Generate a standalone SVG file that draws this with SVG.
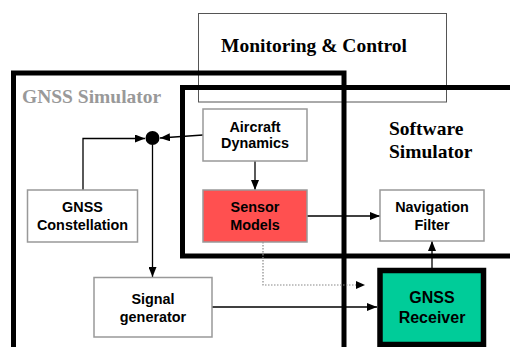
<svg xmlns="http://www.w3.org/2000/svg" width="510" height="347" viewBox="0 0 510 347">
<style>
.node{fill:#fff;stroke:#999;stroke-width:1.5}
.lbl{font-family:"Liberation Sans",Arial,sans-serif;font-weight:bold;font-size:14.4px;fill:#000;text-anchor:middle}
.big{font-family:"Liberation Serif","Times New Roman",serif;font-weight:bold;font-size:19.5px}
.frame{fill:none;stroke:#000;stroke-width:5}
.conn{fill:none;stroke:#000;stroke-width:1.3}
</style>
<defs>
<marker id="ah" viewBox="0 0 10 8" refX="10" refY="4" markerWidth="10" markerHeight="8" markerUnits="userSpaceOnUse" orient="auto">
<path d="M0,0 L10,4 L0,8 z" fill="#000"/>
</marker>
</defs>
<rect width="510" height="347" fill="#fff"/>
<g id="monitoring">
<rect x="198.5" y="13.5" width="248" height="88.5" fill="none" stroke="#555" stroke-width="1"/>
<text class="big" x="314" y="52" text-anchor="middle">Monitoring &amp; Control</text>
</g>
<g id="gnss-simulator">
<rect class="frame" x="13.5" y="73" width="330.5" height="290"/>
<text class="big" x="22" y="103" fill="#999">GNSS Simulator</text>
</g>
<g id="software-simulator">
<rect class="frame" x="182.5" y="87.5" width="340" height="168.5"/>
<text class="big" x="389" y="135">Software</text>
<text class="big" x="389" y="158">Simulator</text>
</g>
<g id="connectors">
<line class="conn" x1="203" y1="135" x2="160" y2="138" marker-end="url(#ah)"/>
<path class="conn" d="M83,190 V138.5 H145" marker-end="url(#ah)"/>
<path class="conn" d="M152.5,145 V277" marker-end="url(#ah)"/>
<path class="conn" d="M255,161 V190" marker-end="url(#ah)"/>
<path class="conn" d="M307,216 H380" marker-end="url(#ah)"/>
<path class="conn" d="M212,307 H377" marker-end="url(#ah)"/>
<path class="conn" d="M432,268 V241" marker-end="url(#ah)"/>
<path d="M263,242 V285 H357" fill="none" stroke="#888" stroke-width="1.2" stroke-dasharray="1.5,1.5"/>
<path d="M356,281 L365,285 L356,289 z" fill="#000"/>
</g>
<g id="junction">
<circle cx="152.5" cy="138" r="7" fill="#000"/>
</g>
<g id="aircraft-dynamics">
<rect class="node" x="203" y="109" width="104" height="52"/>
<text class="lbl" x="255" y="131.5">Aircraft</text>
<text class="lbl" x="255" y="148">Dynamics</text>
</g>
<g id="sensor-models">
<rect class="node" x="203" y="190" width="104" height="52" style="fill:#FF5050"/>
<text class="lbl" x="255" y="212">Sensor</text>
<text class="lbl" x="255" y="229.5">Models</text>
</g>
<g id="navigation-filter">
<rect class="node" x="380" y="190" width="104" height="51"/>
<text class="lbl" x="432" y="212">Navigation</text>
<text class="lbl" x="432" y="229.5">Filter</text>
</g>
<g id="gnss-constellation">
<rect class="node" x="27.5" y="190" width="110" height="52"/>
<text class="lbl" x="82.5" y="212">GNSS</text>
<text class="lbl" x="82.5" y="229.5">Constellation</text>
</g>
<g id="signal-generator">
<rect class="node" x="94" y="277.5" width="118" height="59.5"/>
<text class="lbl" x="153" y="304">Signal</text>
<text class="lbl" x="153" y="321.5">generator</text>
</g>
<g id="gnss-receiver">
<rect x="380" y="270.5" width="103.5" height="74" fill="#00CC99" stroke="#000" stroke-width="5.5"/>
<text class="lbl" x="432" y="303" style="font-size:16px">GNSS</text>
<text class="lbl" x="432" y="323" style="font-size:16px">Receiver</text>
</g>
</svg>
